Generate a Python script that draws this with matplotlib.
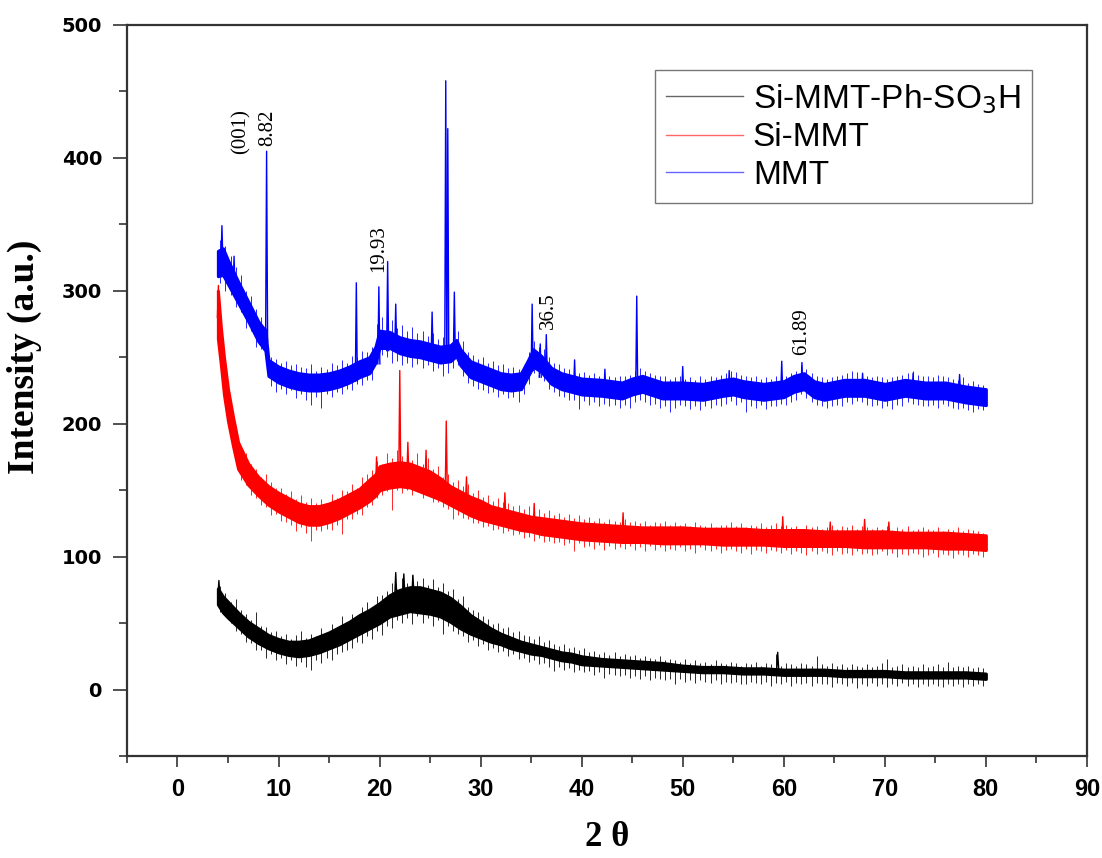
import matplotlib
matplotlib.use('Agg')
import matplotlib.pyplot as plt
import numpy as np
from matplotlib.ticker import MultipleLocator
from matplotlib.lines import Line2D

# 2-theta positions of the noise strokes (every half degree)
nx = np.arange(4.25, 80.0, 0.5)

# ---- Si-MMT-Ph-SO3H (black) ----
# dense core of the trace
kx = [4.0, 4.5, 5, 6, 7, 8, 9, 10, 11, 12, 13, 14, 15, 16, 17, 18, 19, 20, 21, 22, 23, 24, 25,
      26, 27, 28, 29, 30, 31, 32, 33, 34, 35, 36, 37, 38, 39, 40, 42, 44, 46, 48, 50, 52, 54,
      56, 58, 60, 62, 64, 66, 68, 70, 72, 74, 76, 78, 80]
klo = [64, 58, 54, 47, 40, 35, 31, 28, 26, 25, 26, 28, 31, 34, 38, 42, 46, 50, 55, 57, 59, 58, 57,
       55, 51, 46, 42, 39, 36, 34, 31, 29, 27, 26, 24, 22, 21, 19, 18, 17, 16, 15, 14, 13, 13,
       12, 12, 11, 11, 11, 10, 10, 10, 9, 9, 9, 9, 8]
khi = [76, 70, 66, 58, 51, 46, 41, 38, 36, 36, 37, 40, 43, 47, 51, 56, 60, 65, 71, 75, 77, 77, 75,
       73, 69, 63, 56, 51, 46, 42, 39, 36, 34, 32, 30, 28, 27, 25, 23, 22, 21, 20, 18, 17, 17,
       16, 16, 15, 15, 15, 14, 14, 14, 13, 13, 13, 13, 12]
# noise extent at each stroke position
knlo = [58, 55, 50, 44, 42, 36, 35, 30, 30, 24,
        27, 22, 24, 19, 22, 18, 21, 17, 15, 22,
        20, 24, 22, 27, 28, 30, 31, 36, 35, 40,
        38, 44, 41, 48, 46, 52, 50, 54, 49, 55,
        50, 54, 48, 52, 42, 48, 44, 42, 40, 36,
        37, 33, 34, 30, 31, 28, 29, 25, 27, 23,
        24, 21, 22, 19, 20, 17, 14, 17, 15, 16,
        13, 15, 13, 14, 11, 13, 9, 12, 11, 10,
        11, 9, 10, 8, 10, 7, 9, 8, 7, 8,
        4, 8, 6, 7, 5, 7, 6, 5, 7, 4,
        6, 5, 6, 4, 4, 6, 5, 4, 6, 3,
        5, 4, 6, 3, 5, 4, 5, 3, 5, 4,
        4, 2, 5, 4, 3, 5, 1, 4, 3, 5,
        3, 4, 2, 4, 3, 5, 3, 4, 2, 4,
        3, 4, 3, 2, 4, 3, 4, 2, 4, 3,
        4, 3]
knhi = [78, 73, 66, 68, 60, 57, 52, 58, 48, 47,
        43, 44, 40, 42, 38, 41, 44, 39, 42, 40,
        46, 42, 49, 47, 55, 50, 57, 54, 62, 66,
        62, 70, 71, 74, 80, 76, 84, 80, 86, 82,
        84, 79, 83, 77, 80, 74, 76, 68, 70, 62,
        60, 58, 55, 53, 49, 50, 46, 47, 43, 44,
        41, 40, 38, 40, 36, 37, 34, 33, 34, 31,
        32, 30, 31, 28, 29, 27, 28, 26, 28, 25,
        27, 25, 26, 24, 25, 24, 23, 25, 22, 23,
        22, 21, 23, 20, 22, 20, 21, 19, 22, 20,
        19, 21, 20, 18, 20, 19, 21, 18, 20, 19,
        27, 18, 20, 19, 18, 20, 19, 18, 25, 19,
        18, 20, 18, 19, 17, 19, 18, 17, 19, 17,
        18, 20, 23, 17, 18, 19, 17, 18, 17, 19,
        17, 18, 19, 17, 21, 17, 18, 17, 18, 16,
        17, 16]
# single spikes: (2theta, low end, high end)
k_peaks = [(4.1, 70, 82), (21.6, 70, 88), (22.4, 72, 87), (23.3, 72, 86), (59.4, 15, 28)]

# ---- Si-MMT (red) ----
rx = [4.0, 4.3, 4.6, 5, 5.5, 6, 7, 8, 9, 10, 11, 12, 13, 14, 15, 16, 17, 18, 19, 19.6, 20, 21,
      22, 23, 24, 25, 26, 27, 28, 29, 30, 31, 32, 33, 34, 35, 36, 37, 38, 39, 40, 42, 44, 46,
      48, 50, 52, 54, 56, 58, 60, 62, 64, 66, 68, 70, 72, 74, 76, 78, 80]
rlo = [264, 244, 222, 202, 183, 166, 154, 146, 139, 134, 130, 126, 124, 124, 126, 129, 133, 137,
       142, 146, 150, 152, 153, 152, 149, 146, 143, 139, 135, 131, 128, 126, 124, 122, 120, 119,
       117, 116, 115, 114, 113, 112, 111, 111, 110, 110, 110, 109, 109, 109, 108, 108, 108, 108,
       107, 107, 107, 107, 106, 106, 105]
rhi = [300, 272, 250, 226, 205, 186, 170, 160, 153, 148, 144, 140, 138, 138, 140, 143, 147, 151,
       158, 162, 168, 170, 171, 170, 167, 164, 159, 153, 149, 145, 142, 138, 136, 134, 132, 130,
       129, 128, 127, 126, 125, 124, 123, 122, 122, 122, 121, 121, 121, 120, 120, 120, 119, 119,
       119, 119, 118, 118, 118, 117, 116]
rnlo = [252, 217, 191, 174, 158, 154, 146, 144, 139, 137,
        131, 132, 127, 126, 124, 119, 122, 118, 112, 120,
        119, 121, 120, 124, 117, 128, 128, 132, 131, 137,
        139, 144, 146, 149, 135, 150, 148, 150, 146, 149,
        144, 146, 141, 141, 137, 136, 128, 131, 129, 128,
        125, 125, 122, 123, 120, 121, 118, 119, 116, 117,
        114, 115, 112, 114, 111, 112, 110, 111, 109, 110,
        104, 110, 107, 108, 106, 109, 105, 108, 106, 107,
        106, 108, 105, 107, 104, 108, 105, 107, 104, 106,
        105, 107, 104, 106, 103, 107, 105, 104, 106, 103,
        105, 106, 104, 103, 106, 102, 105, 104, 103, 105,
        104, 103, 105, 102, 104, 103, 101, 104, 102, 104,
        103, 101, 104, 102, 103, 101, 104, 102, 103, 101,
        102, 104, 101, 103, 100, 102, 101, 103, 102, 100,
        101, 103, 100, 102, 101, 99, 102, 101, 100, 102,
        101, 100]
rnhi = [282, 240, 217, 198, 181, 178, 170, 166, 160, 162,
        156, 152, 152, 147, 149, 143, 146, 141, 144, 140,
        143, 140, 147, 144, 150, 149, 155, 152, 160, 162,
        165, 172, 170, 178, 174, 180, 176, 184, 173, 178,
        170, 174, 166, 168, 160, 162, 156, 158, 153, 155,
        148, 150, 145, 146, 142, 144, 141, 140, 138, 139,
        136, 138, 134, 136, 133, 135, 131, 133, 130, 132,
        129, 131, 128, 130, 127, 129, 126, 128, 127, 126,
        128, 126, 127, 125, 127, 124, 126, 125, 127, 124,
        126, 124, 125, 123, 126, 124, 123, 125, 122, 124,
        124, 126, 123, 125, 122, 124, 123, 125, 122, 124,
        125, 123, 124, 122, 123, 121, 124, 122, 123, 121,
        122, 124, 121, 123, 122, 124, 121, 123, 122, 121,
        122, 121, 123, 120, 122, 121, 123, 120, 121, 122,
        121, 120, 122, 119, 121, 120, 122, 119, 121, 120,
        119, 118]
r_peaks = [(4.05, 280, 304), (22.0, 160, 240), (26.6, 150, 202), (19.7, 150, 175),
           (22.8, 160, 186), (24.6, 155, 180), (28.6, 140, 160), (32.4, 128, 148),
           (35.3, 120, 140), (44.1, 115, 133), (59.9, 113, 130), (64.6, 113, 126),
           (68.0, 113, 128), (70.4, 113, 126)]

# ---- MMT (blue) ----
bx = [4.0, 4.5, 5, 6, 7, 8, 8.7, 9.0, 10, 11, 12, 13, 14, 15, 16, 17, 17.5, 18, 19, 19.6, 20,
      21, 22, 23, 24, 25, 26, 27, 27.6, 28, 29, 30, 31, 32, 33, 34, 34.7, 35.2, 36, 37, 38, 39,
      40, 42, 44, 45, 46, 48, 50, 52, 54, 55, 56, 58, 60, 61, 62, 63, 64, 66, 68, 70, 72, 74,
      76, 78, 80]
blo = [311, 312, 305, 291, 277, 262, 255, 236, 231, 228, 226, 225, 225, 226, 228, 231, 233, 235,
       238, 246, 257, 257, 253, 251, 250, 248, 246, 247, 251, 244, 235, 232, 229, 226, 225, 226,
       236, 243, 239, 230, 226, 224, 222, 221, 219, 222, 224, 219, 219, 218, 221, 222, 220, 218,
       220, 224, 226, 220, 218, 221, 221, 218, 221, 219, 219, 216, 214]
bhi = [330, 332, 323, 307, 292, 277, 270, 248, 243, 240, 238, 237, 237, 238, 240, 243, 245, 247,
       250, 258, 270, 269, 265, 263, 262, 260, 258, 259, 263, 256, 247, 244, 241, 238, 237, 238,
       248, 256, 251, 242, 238, 236, 234, 233, 231, 234, 236, 231, 231, 230, 233, 234, 232, 230,
       232, 236, 238, 232, 230, 233, 233, 230, 233, 231, 231, 228, 226]
bnlo = [306, 300, 297, 288, 284, 272, 270, 258, 256, 250,
        228, 224, 226, 222, 225, 219, 222, 218, 214, 220,
        212, 222, 220, 224, 222, 226, 225, 230, 229, 233,
        233, 246, 252, 250, 246, 247, 244, 246, 243, 245,
        242, 244, 240, 242, 236, 238, 242, 244, 236, 231,
        228, 226, 225, 223, 224, 220, 222, 219, 220, 216,
        222, 230, 238, 235, 232, 226, 224, 221, 220, 218,
        218, 211, 217, 214, 216, 213, 215, 213, 214, 212,
        214, 212, 216, 218, 216, 214, 215, 212, 213, 209,
        212, 214, 213, 211, 213, 210, 213, 212, 214, 213,
        215, 217, 214, 216, 209, 213, 212, 214, 211, 213,
        213, 215, 214, 216, 218, 222, 219, 216, 214, 213,
        212, 213, 214, 213, 216, 215, 217, 216, 214, 213,
        214, 212, 213, 211, 214, 213, 216, 215, 214, 213,
        213, 214, 212, 215, 213, 212, 211, 212, 210, 209,
        211, 210]
bnhi = [338, 334, 326, 318, 312, 300, 296, 286, 280, 272,
        250, 249, 246, 247, 244, 245, 243, 242, 245, 240,
        243, 241, 246, 244, 248, 246, 251, 250, 255, 254,
        258, 275, 280, 276, 278, 272, 274, 270, 273, 268,
        270, 266, 268, 264, 265, 262, 268, 270, 262, 254,
        252, 249, 250, 246, 247, 244, 245, 242, 243, 241,
        244, 254, 262, 258, 256, 250, 246, 245, 242, 241,
        240, 238, 239, 237, 238, 236, 237, 236, 235, 236,
        236, 237, 240, 242, 240, 238, 237, 236, 236, 234,
        235, 236, 234, 235, 233, 236, 234, 236, 235, 237,
        238, 240, 239, 237, 236, 235, 236, 234, 235, 234,
        236, 237, 236, 238, 240, 244, 241, 238, 236, 235,
        234, 235, 236, 237, 238, 240, 239, 238, 236, 235,
        236, 235, 234, 235, 236, 237, 238, 240, 237, 236,
        236, 235, 237, 236, 235, 234, 233, 235, 231, 232,
        230, 229]
b_peaks = [(4.4, 320, 349), (5.6, 300, 326), (8.82, 262, 405), (17.7, 232, 306),
           (19.93, 245, 303), (20.8, 255, 322), (21.6, 255, 290), (25.2, 250, 284),
           (26.55, 250, 458), (26.75, 250, 422), (27.4, 250, 299), (35.1, 240, 290),
           (35.9, 235, 260), (36.5, 235, 267), (39.3, 225, 248), (42.3, 222, 241),
           (45.45, 225, 296), (50.0, 222, 243), (54.6, 222, 240), (59.8, 222, 247),
           (61.8, 226, 246), (67.8, 224, 238), (72.8, 222, 238), (77.4, 222, 237)]

labels = ['Si-MMT-Ph-SO$_3$H', 'Si-MMT', 'MMT']
colors = ['#000000', '#ff0000', '#0000ff']

# peak labels: (2theta, intensity at text bottom, text)
notes = [(6.3, 403, '(001)'), (8.9, 409, '8.82'), (19.9, 314, '19.93'),
         (36.7, 271, '36.5'), (61.8, 252, '61.89')]

fig = plt.figure(figsize=(11.02, 8.58), dpi=100)
ax = fig.add_axes([0.1152, 0.1189, 0.8711, 0.852])

series = [(kx, klo, khi, knlo, knhi, k_peaks), (rx, rlo, rhi, rnlo, rnhi, r_peaks),
          (bx, blo, bhi, bnlo, bnhi, b_peaks)]
for (x, lo, hi, nlo, nhi, peaks), c in zip(series, colors):
    ax.fill_between(x, lo, hi, color=c, lw=2.2, zorder=2)
    ax.vlines(nx, nlo, nhi, color=c, lw=0.7, alpha=0.85, zorder=2)
    for px, p0, p1 in peaks:
        ax.plot([px - 0.1, px, px + 0.1], [p0, p1, p0], color=c, lw=1.0, zorder=3)

for tx, ty, t in notes:
    ax.text(tx, ty, t, rotation=90, ha='center', va='bottom',
            family='Liberation Serif', fontsize=15)

ax.set_xlim(-5, 90)
ax.set_ylim(-50, 500)
ax.set_xticks(range(0, 91, 10))
ax.set_yticks(range(0, 501, 100))
ax.xaxis.set_minor_locator(MultipleLocator(5))
ax.yaxis.set_minor_locator(MultipleLocator(50))
for s in ax.spines.values():
    s.set_linewidth(1.6)
    s.set_color('#333333')
ax.tick_params(axis='x', which='major', length=8, width=1.2, color='#333333', pad=8)
ax.tick_params(axis='x', which='minor', length=5, width=1.2, color='#333333')
ax.tick_params(axis='y', which='major', length=10, width=1.2, color='#333333', pad=8)
ax.tick_params(axis='y', which='minor', length=6, width=1.2, color='#333333')
for lb in ax.get_xticklabels():
    lb.set_family(['Liberation Sans Narrow', 'Liberation Sans'])
    lb.set_fontweight('bold')
    lb.set_fontsize(17)
for lb in ax.get_yticklabels():
    lb.set_family('DejaVu Sans')
    lb.set_fontweight('bold')
    lb.set_fontsize(14)

ax.set_xlabel('2 θ', family='Liberation Serif', fontweight='bold', fontsize=25, labelpad=14)
ax.set_ylabel('Intensity (a.u.)', family='Liberation Serif', fontweight='bold', fontsize=27)
ax.yaxis.set_label_coords(-0.088, 0.546)

handles = [Line2D([], [], color=c, lw=1.0, alpha=0.6) for c in colors]
leg = ax.legend(handles, labels, loc='upper right', bbox_to_anchor=(0.943, 0.938),
                borderaxespad=0, fancybox=False, edgecolor='#555555', handlelength=2.3,
                prop={'family': 'Liberation Sans', 'size': 24}, labelspacing=0.2,
                borderpad=0.35, handletextpad=0.3)
leg.get_frame().set_linewidth(1.0)

fig.savefig('out.png', dpi=100)
